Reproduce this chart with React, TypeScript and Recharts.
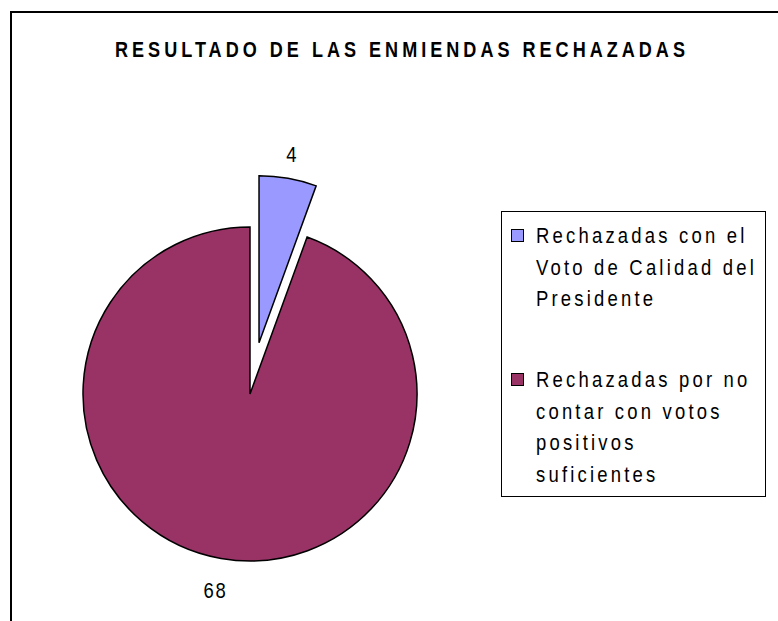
import { PieChart, Pie, Cell, Sector, Legend } from "recharts"

const categories = [
  "Rechazadas con el Voto de Calidad del Presidente",
  "Rechazadas por no contar con votos positivos suficientes",
]
const values = [4, 68]
const colors = ["#9999FF", "#993366"]
// line breaks of the legend entries, as in the picture
const legendLines = [
  ["Rechazadas con el", "Voto de Calidad del", "Presidente"],
  ["Rechazadas por no", "contar con votos", "positivos", "suficientes"],
]
const title = "RESULTADO DE LAS ENMIENDAS RECHAZADAS"

const data = categories.map((name, i) => ({ name, value: values[i] }))

const RAD = Math.PI / 180
const EXPLODE = 52
const NARROW = 0.84
const FONT = "'Liberation Sans', Arial, sans-serif"

function renderSlice(props: any) {
  const off = props.name === categories[0] ? EXPLODE : 0
  const dx = off * Math.cos(-props.midAngle * RAD)
  const dy = off * Math.sin(-props.midAngle * RAD)
  return <Sector {...props} cx={props.cx + dx} cy={props.cy + dy} />
}

function renderLabel(props: any) {
  const { cx, cy, midAngle, outerRadius, value, name } = props
  const r = outerRadius + (name === categories[0] ? EXPLODE + 24 : 32)
  const x = cx + r * Math.cos(-midAngle * RAD)
  const y = cy + r * Math.sin(-midAngle * RAD)
  return (
    <text
      transform={`translate(${x},${y}) scale(${NARROW},1)`}
      textAnchor="middle"
      dominantBaseline="central"
      fontSize={22}
      fontFamily={FONT}
      letterSpacing={2}
      fill="#000"
    >
      {value}
    </text>
  )
}

function renderLegend() {
  return (
    <div style={{ width: 265, height: 286, border: "1.5px solid #000", boxSizing: "border-box", background: "#fff", fontFamily: FONT, fontSize: 22, color: "#000", paddingTop: 8 }}>
      {legendLines.map((lines, i) => (
        <div key={i} style={{ position: "relative", paddingLeft: 34, marginTop: i === 0 ? 0 : 49.5, lineHeight: "31.5px" }}>
          <span style={{ position: "absolute", left: 9, top: 9, width: 13, height: 13, boxSizing: "border-box", background: colors[i], border: "1px solid #000" }} />
          {lines.map((l) => (
            <div key={l} style={{ whiteSpace: "nowrap", letterSpacing: 3.8, transform: `scaleX(${NARROW})`, transformOrigin: "0 50%" }}>
              {l}
            </div>
          ))}
        </div>
      ))}
    </div>
  )
}

export default function App() {
  return (
    <div style={{ position: "absolute", left: 0, top: 0, width: 778, height: 621, background: "#fff", overflow: "hidden" }}>
      <div style={{ position: "absolute", left: 10, top: 11, right: 0, bottom: 0, borderTop: "2px solid #000", borderLeft: "2px solid #000" }} />
      <div
        style={{
          position: "absolute",
          left: 13,
          top: 39,
          width: 778,
          textAlign: "center",
          whiteSpace: "nowrap",
          fontFamily: FONT,
          fontWeight: "bold",
          fontSize: 22,
          lineHeight: "22px",
          letterSpacing: 4.9,
          transform: `scaleX(0.82)`,
          transformOrigin: "50% 50%",
        }}
      >
        {title}
      </div>
      <PieChart width={778} height={621} margin={{ top: 0, right: 0, bottom: 0, left: 0 }} style={{ position: "absolute", left: 0, top: 0 }}>
        <Pie
          data={data}
          dataKey="value"
          nameKey="name"
          cx={250}
          cy={394}
          outerRadius={167}
          startAngle={90}
          endAngle={-270}
          stroke="#000"
          strokeWidth={1.5}
          shape={renderSlice}
          label={renderLabel}
          labelLine={false}
          isAnimationActive={false}
        >
          {data.map((d, i) => (
            <Cell key={d.name} fill={colors[i]} />
          ))}
        </Pie>
        <Legend
          layout="vertical"
          content={renderLegend}
          wrapperStyle={{ position: "absolute", left: 501, top: 211, width: 265 }}
        />
      </PieChart>
    </div>
  )
}
